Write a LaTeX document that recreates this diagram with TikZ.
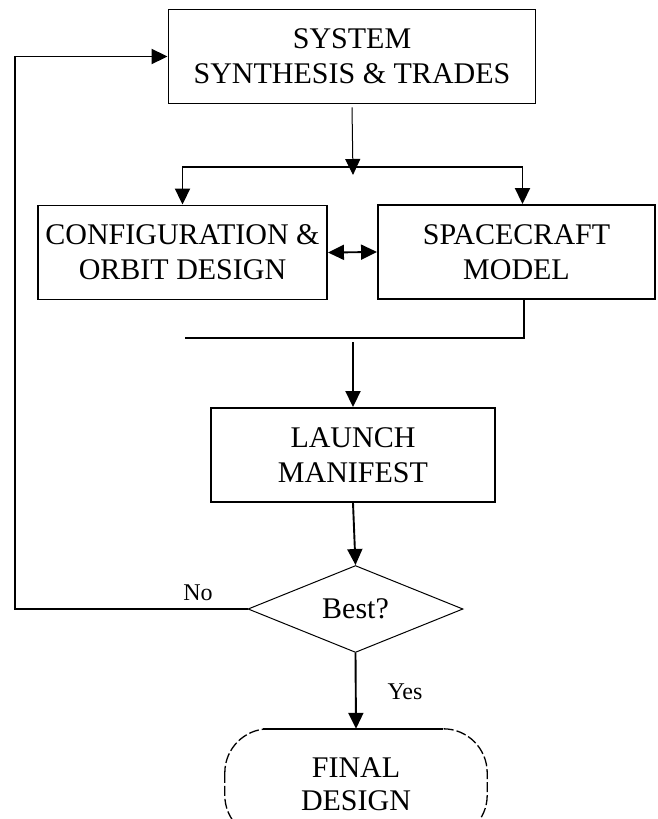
\documentclass[tikz,border=0pt]{standalone}
\usepackage{fontspec}
\setmainfont{Liberation Serif}
\usetikzlibrary{shapes.geometric,arrows.meta}

\begin{document}
\begin{tikzpicture}[x=1pt,y=-1pt,
  box/.style={draw,line width=1.9pt,minimum height=94pt,inner sep=0pt,align=center,font=\fontsize{30}{35}\selectfont},
  arr/.style={line width=1.9pt,-{Triangle[length=16pt,width=15pt]}},
  lbl/.style={font=\fontsize{24}{28}\selectfont}]
  \useasboundingbox (0,0) rectangle (657,819);
  \clip (0,0) rectangle (657,819);

  % boxes
  \node[box,minimum width=367pt] (sys) at (352,56.5) {SYSTEM\\SYNTHESIS \& TRADES};
  \node[box,minimum width=289pt] (cfg) at (182.5,252.5) {CONFIGURATION \&\\ORBIT DESIGN};
  \node[box,minimum width=277pt] (sc) at (516.5,252) {SPACECRAFT\\MODEL};
  \node[box,minimum width=284pt] (launch) at (353,455) {LAUNCH\\MANIFEST};
  \node[diamond,draw,line width=1pt,minimum width=215pt,minimum height=84pt,inner sep=0pt,
        font=\fontsize{30}{35}\selectfont] (best) at (355.5,609) {Best?};
  \node[minimum width=262pt,minimum height=110pt,align=center,
        font=\fontsize{30}{33}\selectfont] (final) at (356,784) {FINAL\\DESIGN};

  \coordinate (split) at (353,167);
  \coordinate (merge) at (353,338);
  \coordinate (mergeL) at (185,338);
  \coordinate (loop) at (15,609);

  % split into the two design boxes
  \draw[arr,line width=1pt] ([yshift=-3pt]sys.south) -- ([yshift=-8pt]split);
  \draw[arr] (split) -| (cfg.north);
  \draw[arr] (split) -| ([xshift=6pt]sc.north);
  \draw[line width=1.9pt,{Triangle[length=16pt,width=15pt]}-{Triangle[length=16pt,width=15pt]}]
    (cfg.east) -- (sc.west);

  % merge and launch
  \draw[line width=1.9pt] ([xshift=7.5pt]sc.south) |- (mergeL);
  \draw[arr] ([yshift=-4pt]merge) -- (launch.north);
  \draw[arr] (launch.south) -- (best.north);

  % loop back
  \draw[arr] (best.west) -- (loop) |- (sys.west);
  \node[lbl] (no) at (198,593) {No};

  % final design
  \draw[arr] (best.south) -- (final.north);
  \node[lbl] (yes) at (405,692) {Yes};
  \draw[line width=1.3pt,dash pattern=on 10pt off 3pt,rounded corners=44pt]
    (final.north west) rectangle (final.south east);
  \draw[line width=1.9pt] ([xshift=38pt]final.north west) -- ([xshift=-44pt]final.north east);
\end{tikzpicture}
\end{document}
